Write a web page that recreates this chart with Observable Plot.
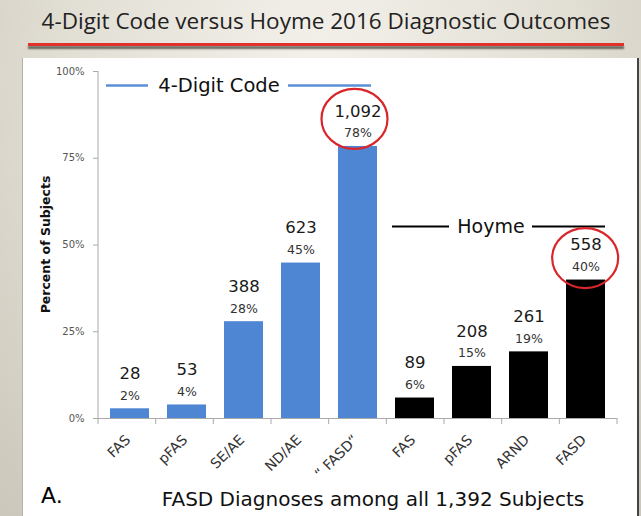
<!DOCTYPE html>
<html><head><meta charset="utf-8">
<script src="https://cdn.jsdelivr.net/npm/d3@7"></script>
<script src="https://cdn.jsdelivr.net/npm/@observablehq/plot@0.6"></script>
<style>
html,body{margin:0;padding:0}
body{width:641px;height:516px;overflow:hidden;position:relative;
  background:radial-gradient(ellipse at 50% 15%, #f3f1ea 0%, #e2dfd5 55%, #cbc7ba 100%);}
#title{position:absolute;left:0;top:5px;width:652px;text-align:center;font:22.5px "Open Sans",sans-serif;color:#222;white-space:nowrap}
#rule{position:absolute;left:28px;top:43px;width:596px;height:3px;background:#e0312c;box-shadow:0 3px 2px rgba(60,60,50,0.75)}
#panel{position:absolute;left:22px;top:58px;width:614px;height:470px;background:#fff;border-left:1px solid #b5b1a4;border-right:2px solid #444}
#chart{position:absolute;left:0;top:0}
#letter{position:absolute;left:18px;top:425px;font:22px "DejaVu Sans",sans-serif;color:#000}
#caption{position:absolute;left:0;top:429px;width:700px;text-align:center;font:20px "DejaVu Sans",sans-serif;color:#111;white-space:nowrap}
</style></head>
<body>
<div id="title">4-Digit Code versus Hoyme 2016 Diagnostic Outcomes</div>
<div id="rule"></div>
<div id="panel">
  <div id="chart"></div>
  <div id="letter">A.</div>
  <div id="caption">FASD Diagnoses among all 1,392 Subjects</div>
</div>
<script>
// ---- data ----
const keys    = ["FAS_4","pFAS_4","SE/AE","ND/AE","FASD_4","FAS_H","pFAS_H","ARND","FASD_H"];
const labels  = ["FAS","pFAS","SE/AE","ND/AE","“ FASD“","FAS","pFAS","ARND","FASD"];
const groups  = ["4-Digit Code","4-Digit Code","4-Digit Code","4-Digit Code","4-Digit Code","Hoyme","Hoyme","Hoyme","Hoyme"];
const counts  = ["28","53","388","623","1,092","89","208","261","558"];
const pctText = ["2%","4%","28%","45%","78%","6%","15%","19%","40%"];
const values  = [2.8, 3.9, 27.9, 44.8, 78.4, 5.9, 15.0, 19.2, 39.9];
const yTicks  = [0, 25, 50, 75, 100];
const highlighted = ["FASD_4","FASD_H"];
const highlightY  = [86.2, 46.1];

const data = keys.map((k,i)=>({key:k,label:labels[i],group:groups[i],count:counts[i],pct:pctText[i],value:values[i]}));
const labelOf = Object.fromEntries(keys.map((k,i)=>[k,labels[i]]));

const colorBlue = "#4e86d4";
const W = 614, H = 412;

const plot = Plot.plot({
  width: W, height: H,
  marginLeft: 75, marginRight: 20, marginTop: 13, marginBottom: 52,
  style: {fontFamily: "'DejaVu Sans', sans-serif", background: "transparent", overflow: "visible"},
  x: {domain: keys, paddingInner: 0.32, paddingOuter: 0.16, label: null},
  y: {domain: [0, 100], label: null},
  marks: [
    Plot.axisY({ticks: yTicks, tickFormat: d => d + "%", tickSize: 5, tickPadding: 9, fontSize: 10, fill: "#555", stroke: "#aaa", label: null}),
    Plot.axisX({tickSize: 0, tickPadding: 19, tickRotate: -45, fontSize: 14, fill: "#333", tickFormat: k => labelOf[k], label: null, dx: -2}),
    Plot.barY(data, {x: "key", y: "value", fill: d => d.group === "Hoyme" ? "#000" : colorBlue}),
    Plot.text(data, {x: "key", y: "value", text: "count", dy: -35, fontSize: 16.5, fill: "#1a1a1a"}),
    Plot.text(data, {x: "key", y: "value", text: "pct", dy: -13, fontSize: 12.5, fill: "#333"}),
    // group annotations
    Plot.ruleY([96], {x1: () => "FAS_4", x2: () => "FAS_4", insetLeft: -4, insetRight: 1, stroke: "#5b8fd6", strokeWidth: 2.5}),
    Plot.ruleY([96], {x1: () => "ND/AE", x2: () => "FASD_4", insetLeft: 7, insetRight: 6, stroke: "#5b8fd6", strokeWidth: 2.5}),
    Plot.text(["4-Digit Code"], {x: () => "SE/AE", y: () => 96, text: d => d, dx: -25, fontSize: 19.5, fill: "#111"}),
    Plot.ruleY([55.3], {x1: () => "FAS_H", x2: () => "FAS_H", insetLeft: -3, insetRight: -15, stroke: "#000", strokeWidth: 2}),
    Plot.ruleY([55.3], {x1: () => "ARND", x2: () => "FASD_H", insetLeft: 23, insetRight: 0, stroke: "#000", strokeWidth: 2}),
    Plot.text(["Hoyme"], {x: () => "pFAS_H", y: () => 55.3, text: d => d, dx: 19, fontSize: 19, fill: "#111"}),
    Plot.ruleY([0], {stroke: "#aaa"})
  ]
});

const svg = d3.select(plot);
const ys = plot.scale("y"), xs = plot.scale("x");
const yScale = d3.scaleLinear().domain(ys.domain).range(ys.range);
const xScale = d3.scaleBand().domain(xs.domain).range(xs.range)
  .paddingInner(xs.paddingInner).paddingOuter(xs.paddingOuter).align(xs.align ?? 0.5);
const y0 = yScale(0);
const step = xScale.step(), bw = xScale.bandwidth();

// y-axis title
svg.append("text")
  .attr("transform", `translate(23,${(yScale(0)+yScale(100))/2}) rotate(-90)`)
  .attr("text-anchor","middle").attr("dy","0.35em")
  .attr("font-size", 12.5).attr("font-weight","bold").attr("fill","#111")
  .text("Percent of Subjects");

// category boundary ticks
const bounds = keys.map(k => xScale(k) - (step - bw)/2).concat([xScale(keys[keys.length-1]) + bw + (step - bw)/2]);
svg.append("g").attr("stroke","#aaa").selectAll("line").data(bounds).join("line")
  .attr("x1", d=>d).attr("x2", d=>d).attr("y1", y0).attr("y2", y0+6);
// vertical axis line
svg.append("line").attr("stroke","#aaa").attr("x1", xs.range[0]).attr("x2", xs.range[0])
  .attr("y1", yScale(100)).attr("y2", y0);

// red highlight ellipses
svg.append("g").attr("fill","none").attr("stroke","#d8262a").attr("stroke-width",2.2)
  .selectAll("ellipse").data(highlighted).join("ellipse")
  .attr("cx", (k,i) => xScale(k) + bw/2 - 3)
  .attr("cy", (k,i) => yScale(highlightY[i]))
  .attr("rx", 33).attr("ry", 30);

document.getElementById("chart").appendChild(plot);
</script>
</body></html>
